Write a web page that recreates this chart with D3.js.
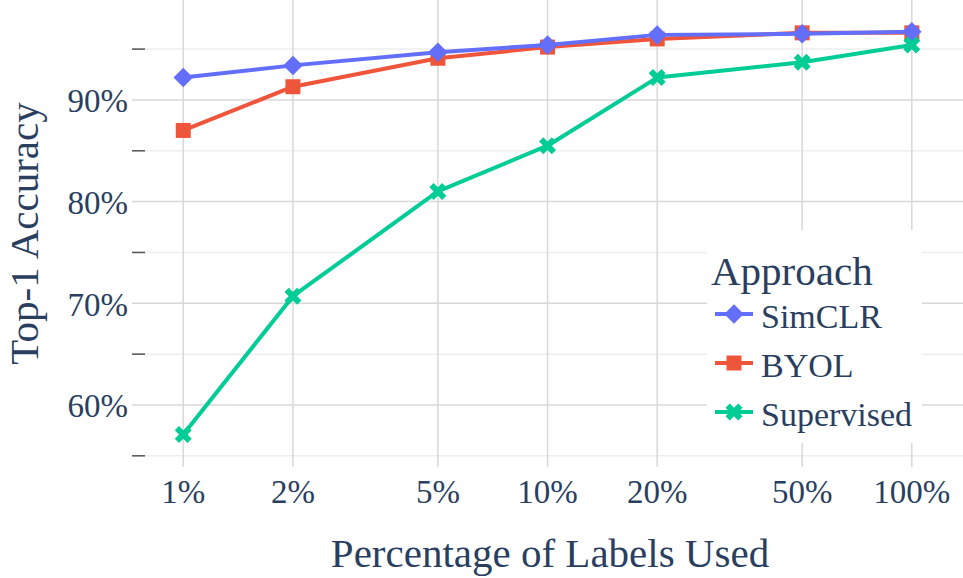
<!DOCTYPE html>
<html>
<head>
<meta charset="utf-8">
<script src="https://cdn.jsdelivr.net/npm/d3@7"></script>
<style>
  html, body { margin: 0; padding: 0; background: #fff; }
  svg { display: block; }
  text { font-family: "Liberation Serif", "Times New Roman", serif; fill: #2a3f5f; }
</style>
</head>
<body>
<svg id="chart" width="963" height="578"></svg>
<script>
// ---- data ----
const labelPercents = [1, 2, 5, 10, 20, 50, 100];
const xTickLabels = ["1%", "2%", "5%", "10%", "20%", "50%", "100%"];
const simclr = [92.2, 93.4, 94.7, 95.4, 96.4, 96.5, 96.7];
const byol = [87.0, 91.3, 94.1, 95.2, 96.0, 96.6, 96.6];
const supervised = [57.1, 70.7, 81.0, 85.5, 92.2, 93.7, 95.4];
const seriesNames = ["SimCLR", "BYOL", "Supervised"];
const yMajorTicks = [60, 70, 80, 90];
const yMinorTicks = [55, 65, 75, 85, 95];
const yTickLabels = ["60%", "70%", "80%", "90%"];

const colors = { SimCLR: "#636EFA", BYOL: "#EF553B", Supervised: "#00CC96" };
const symbols = { SimCLR: "diamond", BYOL: "square", Supervised: "x" };
const seriesData = { SimCLR: simclr, BYOL: byol, Supervised: supervised };

// ---- layout ----
const plot = { left: 132, right: 963, top: 0, bottom: 467 };
const svg = d3.select("#chart");

const x = d3.scaleLog().domain([0.7232, 138.2]).range([plot.left, plot.right]);
const y = d3.scaleLinear().domain([53.9, 99.83]).range([plot.bottom, plot.top]);

// plotly-like marker paths
function markerPath(sym, r) {
  if (sym === "diamond") {
    const rd = r * 1.3;
    return `M${rd},0L0,${rd}L${-rd},0L0,${-rd}Z`;
  }
  if (sym === "square") {
    return `M${r},${r}H${-r}V${-r}H${r}Z`;
  }
  const rx = r * 0.8 / Math.sqrt(2);
  const ne = `l${rx},${rx}`, se = `l${rx},${-rx}`, sw = `l${-rx},${-rx}`, nw = `l${-rx},${rx}`;
  return `M0,${rx}` + ne + se + sw + se + sw + nw + sw + nw + ne + nw + ne + "Z";
}

// minor gridlines
svg.append("g").selectAll("line").data(yMinorTicks).join("line")
  .attr("x1", plot.left).attr("x2", plot.right)
  .attr("y1", d => y(d)).attr("y2", d => y(d))
  .attr("stroke", "#eeeeee").attr("stroke-width", 1.5);

// major gridlines
svg.append("g").selectAll("line").data(yMajorTicks).join("line")
  .attr("x1", plot.left).attr("x2", plot.right)
  .attr("y1", d => y(d)).attr("y2", d => y(d))
  .attr("stroke", "#d8d8d8").attr("stroke-width", 1.5);

svg.append("g").selectAll("line").data(labelPercents).join("line")
  .attr("x1", d => x(d)).attr("x2", d => x(d))
  .attr("y1", plot.top).attr("y2", plot.bottom)
  .attr("stroke", "#d8d8d8").attr("stroke-width", 1.5);

// minor ticks (inside)
svg.append("g").selectAll("line").data(yMinorTicks).join("line")
  .attr("x1", plot.left).attr("x2", plot.left + 13)
  .attr("y1", d => y(d)).attr("y2", d => y(d))
  .attr("stroke", "#555").attr("stroke-width", 1.5);

// y tick labels
svg.append("g").selectAll("text").data(yMajorTicks).join("text")
  .attr("x", 128).attr("y", d => y(d) + 12.5)
  .attr("text-anchor", "end").attr("font-size", 33)
  .text((d, i) => yTickLabels[i]);

// x tick labels
svg.append("g").selectAll("text").data(labelPercents).join("text")
  .attr("x", d => x(d)).attr("y", 503)
  .attr("text-anchor", "middle").attr("font-size", 33)
  .text((d, i) => xTickLabels[i]);

// axis titles
svg.append("text")
  .attr("x", 550).attr("y", 567)
  .attr("text-anchor", "middle").attr("font-size", 41)
  .text("Percentage of Labels Used");

svg.append("text")
  .attr("transform", `translate(38,${(plot.top + plot.bottom) / 2}) rotate(-90)`)
  .attr("text-anchor", "middle").attr("font-size", 41)
  .text("Top-1 Accuracy");

const line = d3.line().x((d, i) => x(labelPercents[i])).y(d => y(d));

const drawOrder = ["BYOL", "SimCLR", "Supervised"];
drawOrder.forEach(name => {
  const g = svg.append("g");
  g.append("path")
    .attr("d", line(seriesData[name]))
    .attr("fill", "none")
    .attr("stroke", colors[name])
    .attr("stroke-width", 4)
    .attr("stroke-linejoin", "round");
  g.selectAll("path.pt").data(seriesData[name]).join("path")
    .attr("class", "pt")
    .attr("transform", (d, i) => `translate(${x(labelPercents[i])},${y(d)})`)
    .attr("d", markerPath(symbols[name], 7.5))
    .attr("fill", colors[name]);
});

// legend
const lg = svg.append("g");
lg.append("rect")
  .attr("x", 707).attr("y", 230).attr("width", 215).attr("height", 213)
  .attr("fill", "#fff");
lg.append("text")
  .attr("x", 711).attr("y", 285).attr("font-size", 41)
  .text("Approach");
const legendY = [314, 363, 412];
seriesNames.forEach((name, i) => {
  const yy = legendY[i];
  lg.append("line")
    .attr("x1", 715).attr("x2", 753).attr("y1", yy).attr("y2", yy)
    .attr("stroke", colors[name]).attr("stroke-width", 4);
  lg.append("path")
    .attr("transform", `translate(734,${yy})`)
    .attr("d", markerPath(symbols[name], 7.5))
    .attr("fill", colors[name]);
  lg.append("text")
    .attr("x", 761).attr("y", yy + 14).attr("font-size", 34)
    .text(name);
});
</script>
</body>
</html>
